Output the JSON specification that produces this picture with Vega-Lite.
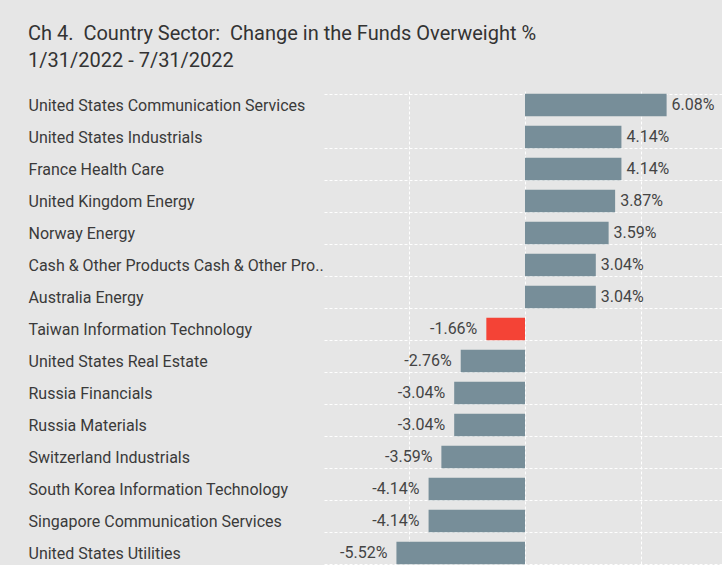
{
  "$schema": "https://vega.github.io/schema/vega-lite/v6.json",
  "width": 402,
  "height": 480,
  "padding": {"left": 28, "top": 24, "right": 0, "bottom": 0},
  "background": "#e6e6e6",
  "title": {
    "text": ["Ch 4.\u00a0 Country Sector:\u00a0 Change in the Funds Overweight %", "1/31/2022 - 7/31/2022"],
    "anchor": "start",
    "frame": "bounds",
    "font": "Roboto",
    "fontSize": 20,
    "fontWeight": "normal",
    "color": "#333333",
    "lineHeight": 27,
    "offset": 10
  },
  "data": {
    "values": [
      {"sector": "United States Communication Services", "value": 0.0608},
      {"sector": "United States Industrials", "value": 0.0414},
      {"sector": "France Health Care", "value": 0.0414},
      {"sector": "United Kingdom Energy", "value": 0.0387},
      {"sector": "Norway Energy", "value": 0.0359},
      {"sector": "Cash & Other Products Cash & Other Pro..", "value": 0.0304},
      {"sector": "Australia Energy", "value": 0.0304},
      {"sector": "Taiwan Information Technology", "value": -0.0166},
      {"sector": "United States Real Estate", "value": -0.0276},
      {"sector": "Russia Financials", "value": -0.0304},
      {"sector": "Russia Materials", "value": -0.0304},
      {"sector": "Switzerland Industrials", "value": -0.0359},
      {"sector": "South Korea Information Technology", "value": -0.0414},
      {"sector": "Singapore Communication Services", "value": -0.0414},
      {"sector": "United States Utilities", "value": -0.0552}
    ]
  },
  "encoding": {
    "y": {
      "field": "sector",
      "type": "nominal",
      "sort": null,
      "scale": {"paddingInner": 0.3, "paddingOuter": 0.15},
      "axis": {
        "title": null,
        "labelAlign": "left",
        "labelPadding": 296,
        "labelLimit": 300,
        "labelFont": "Roboto",
        "labelFontSize": 16,
        "labelColor": "#3a3a3a",
        "ticks": false,
        "domain": false,
        "grid": true,
        "tickBand": "extent",
        "gridColor": "#ffffff",
        "gridDash": [3, 2],
        "gridWidth": 1,
        "gridOpacity": {"condition": {"test": "datum.value === 'United States Communication Services'", "value": 0}, "value": 1}
      }
    },
    "x": {
      "field": "value",
      "type": "quantitative",
      "scale": {"domain": [-0.0863, 0.0863], "nice": false, "zero": false},
      "axis": {
        "title": null,
        "labels": false,
        "ticks": false,
        "domain": false,
        "grid": true,
        "values": [-0.05, 0, 0.05],
        "gridColor": "#ffffff",
        "gridDash": [3, 2],
        "gridWidth": 1,
        "gridOpacity": 1
      }
    }
  },
  "layer": [
    {
      "mark": {"type": "bar"},
      "encoding": {
        "color": {
          "condition": {"test": "datum.sector === 'Taiwan Information Technology'", "value": "#f44336"},
          "value": "#778e99"
        }
      }
    },
    {
      "transform": [{"filter": "datum.value >= 0"}],
      "mark": {"type": "text", "align": "left", "baseline": "middle", "dx": 5, "font": "Roboto", "fontSize": 16, "color": "#444444"},
      "encoding": {"text": {"field": "value", "type": "quantitative", "format": ".2%"}}
    },
    {
      "transform": [{"filter": "datum.value < 0"}],
      "mark": {"type": "text", "align": "right", "baseline": "middle", "dx": -9, "font": "Roboto", "fontSize": 16, "color": "#444444"},
      "encoding": {"text": {"field": "value", "type": "quantitative", "format": ".2%"}}
    }
  ],
  "config": {
    "view": {"stroke": null},
    "locale": {"number": {"decimal": ".", "thousands": ",", "grouping": [3], "currency": ["$", ""], "minus": "-"}}
  }
}
